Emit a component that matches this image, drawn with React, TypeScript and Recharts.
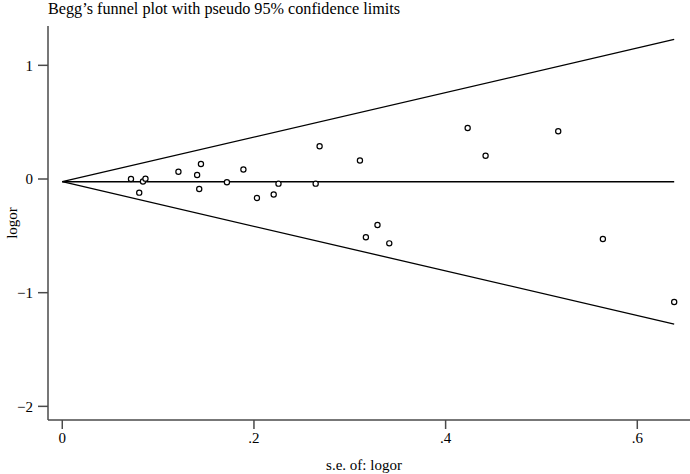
import React from 'react';
import { ComposedChart, Scatter, XAxis, YAxis } from 'recharts';

// study estimates
const seValues = [
  0.0717, 0.0803, 0.0842, 0.0868, 0.1212, 0.1407, 0.1447, 0.1429, 0.1718, 0.189, 0.2031, 0.2206,
  0.2256, 0.2644, 0.2685, 0.3106, 0.3168, 0.3289, 0.3412, 0.423, 0.4417, 0.5175, 0.5641, 0.6385,
];
const logorValues = [
  0.0, -0.12, -0.022, 0.003, 0.064, 0.035, 0.132, -0.088, -0.029, 0.084, -0.167, -0.136,
  -0.041, -0.041, 0.288, 0.163, -0.512, -0.405, -0.566, 0.449, 0.205, 0.42, -0.528, -1.082,
];

// pseudo 95% limits and pooled estimate
const limitSe = [0, 0.6385];
const upperLimit = [-0.024, 1.228];
const lowerLimit = [-0.024, -1.276];
const pooledLine = [-0.024, -0.024];

const xTicks = [0, 0.2, 0.4, 0.6];
const yTicks = [-2, -1, 0, 1];

const studies = seValues.map((se, i) => ({ se, logor: logorValues[i] }));
const toLine = (ys: number[]) => limitSe.map((se, i) => ({ se, logor: ys[i] }));

const font = '"Liberation Serif", "DejaVu Serif", serif';
const axisColor = '#4a4a4a';

const Ring = (props: any) => {
  const { cx, cy } = props;
  return <circle cx={cx} cy={cy} r={2.6} fill="#fff" stroke="#000" strokeWidth={1.2} />;
};
const NoDot = () => <g />;

const fmtX = (v: number) => (v === 0 ? '0' : String(v).replace(/^0/, ''));
const fmtY = (v: number) => (v < 0 ? '\u2212' + Math.abs(v) : String(v));

const YLabel = (props: any) => {
  const vb = props.viewBox || {};
  const x = 12;
  const y = (vb.y || 0) + (vb.height || 0) / 2;
  return (
    <text
      x={x}
      y={y}
      transform={`rotate(-90 ${x} ${y})`}
      textAnchor="middle"
      dominantBaseline="central"
      style={{ fontFamily: font, fontSize: 15, fill: '#000' }}
    >
      logor
    </text>
  );
};

export default function App() {
  return (
    <div style={{ position: 'absolute', left: 0, top: 0, width: 690, height: 474, background: '#fff' }}>
      <div
        style={{
          position: 'absolute',
          left: 48,
          top: 0,
          fontFamily: font,
          fontSize: 16.2,
          lineHeight: '19px',
          color: '#000',
          whiteSpace: 'nowrap',
        }}
      >
        Begg’s funnel plot with pseudo 95% confidence limits
      </div>
      <ComposedChart width={690} height={474} margin={{ top: 26, right: 0, bottom: 0, left: 0 }}>
        <XAxis
          type="number"
          dataKey="se"
          domain={[-0.0149, 0.655]}
          ticks={xTicks}
          allowDataOverflow
          height={54}
          tickFormatter={fmtX}
          tickSize={9}
          tickMargin={3}
          stroke={axisColor}
          strokeWidth={1.5}
          tick={{ fill: '#000', fontSize: 15, fontFamily: font }}
          label={{
            value: 's.e. of: logor',
            position: 'insideBottom',
            offset: 4,
            dx: -5,
            style: { fontFamily: font, fontSize: 15, fill: '#000' },
          }}
        />
        <YAxis
          type="number"
          dataKey="logor"
          domain={[-2.12, 1.346]}
          ticks={yTicks}
          allowDataOverflow
          width={48}
          tickFormatter={fmtY}
          tickSize={10}
          tickMargin={5}
          stroke={axisColor}
          strokeWidth={1.5}
          tick={{ fill: '#000', fontSize: 15, fontFamily: font }}
          label={{ content: YLabel }}
        />
        <Scatter data={toLine(upperLimit)} line={{ stroke: '#000', strokeWidth: 1.3 }} shape={NoDot} isAnimationActive={false} />
        <Scatter data={toLine(lowerLimit)} line={{ stroke: '#000', strokeWidth: 1.3 }} shape={NoDot} isAnimationActive={false} />
        <Scatter data={toLine(pooledLine)} line={{ stroke: '#000', strokeWidth: 1.3 }} shape={NoDot} isAnimationActive={false} />
        <Scatter data={studies} shape={Ring} isAnimationActive={false} />
      </ComposedChart>
    </div>
  );
}
